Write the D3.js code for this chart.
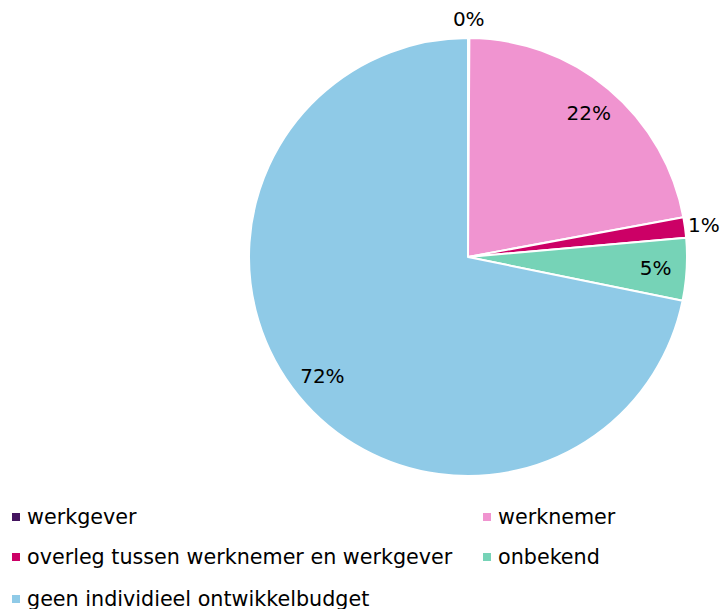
<!DOCTYPE html>
<html><head><meta charset="utf-8">
<script src="https://cdn.jsdelivr.net/npm/d3@7"></script>
<style>body{margin:0;background:#fff;}svg{display:block;font-family:"DejaVu Sans",Verdana,sans-serif;}</style>
</head><body>
<svg id="c" width="725" height="609"></svg>
<script>
const categories = ["werkgever","werknemer","overleg tussen werknemer en werkgever","onbekend","geen individieel ontwikkelbudget"];
const values = [0.1, 22.0, 1.5, 4.6, 71.8];
const labels = ["0%","22%","1%","5%","72%"];
const colors = ["#44145f","#f094d0","#cc0066","#76d3b7","#8fcae7"];
const outside = [true,false,true,false,false];

const svg = d3.select("#c");
const cx = 468, cy = 257, R = 219;
const data = categories.map((c,i)=>({c, v:values[i], l:labels[i], col:colors[i], out:outside[i]}));
const pie = d3.pie().value(d=>d.v).sort(null);
const arcs = pie(data);
const arc = d3.arc().innerRadius(0).outerRadius(R);
const g = svg.append("g").attr("transform",`translate(${cx},${cy})`);
g.selectAll("path").data(arcs).join("path")
  .attr("d",arc).attr("fill",d=>d.data.col)
  .attr("stroke","#fff").attr("stroke-width",2).attr("stroke-linejoin","round");
const inArc = d3.arc().innerRadius(188).outerRadius(188);
const outArc = d3.arc().innerRadius(238).outerRadius(238);
g.selectAll("text").data(arcs).join("text")
  .attr("transform",d=>`translate(${(d.data.out?outArc:inArc).centroid(d)})`)
  .attr("text-anchor","middle").attr("dy","0.35em")
  .attr("font-size",20).attr("fill","#000")
  .text(d=>d.data.l);

const leg = svg.append("g");
const colX = [12, 483], rowY = [517, 557, 599];
data.forEach((d,i)=>{
  const x = colX[i%2], y = rowY[Math.floor(i/2)];
  const it = leg.append("g").attr("transform",`translate(${x},${y})`);
  it.append("rect").attr("x",0).attr("y",-4).attr("width",8).attr("height",8).attr("fill",d.col);
  it.append("text").attr("x",15).attr("dy","0.35em").attr("font-size",20.7).attr("fill","#000").text(d.c);
});
</script>
</body></html>
